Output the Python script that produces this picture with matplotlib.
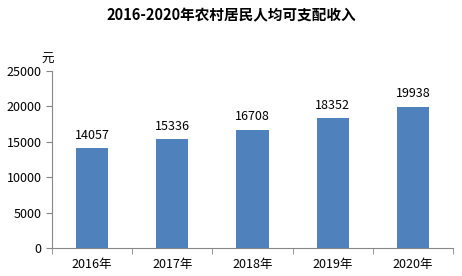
import matplotlib.pyplot as plt
import numpy as np

plt.rcParams['font.family'] = ['Noto Sans CJK SC', 'DejaVu Sans']

years = ['2016年', '2017年', '2018年', '2019年', '2020年']
income = [14057, 15336, 16708, 18352, 19938]

fig = plt.figure(figsize=(4.62, 2.76), dpi=100)
ax = fig.add_axes([52/462, 28/276, 401/462, 177/276])

x = np.arange(len(years))
bars = ax.bar(x, income, width=0.4, color='#4F81BD')
for xi, v in zip(x, income):
    ax.text(xi, v + 900, str(v), ha='center', va='bottom', fontsize=9)

ax.set_xlim(-0.5, len(years) - 0.5)
ax.set_ylim(0, 25000)
ax.set_yticks(np.arange(0, 25001, 5000))
ax.set_xticks(x)
ax.set_xticklabels(years, fontsize=9)
ax.set_xticks(np.arange(-0.5, len(years)), minor=True)
ax.tick_params(axis='x', which='major', length=0, pad=7)
ax.tick_params(axis='x', which='minor', length=4, color='#888888', direction='out')
ax.tick_params(axis='y', labelsize=9, length=4, color='#888888', direction='out')

for s in ['top', 'right']:
    ax.spines[s].set_visible(False)
for s in ['left', 'bottom']:
    ax.spines[s].set_color('#888888')

ax.text(-0.012, 1.03, '元', transform=ax.transAxes, fontsize=9, ha='center', va='bottom')
fig.text(0.5, 0.945, '2016-2020年农村居民人均可支配收入', ha='center', va='center',
         fontsize=10.5, fontweight='bold')

fig.savefig('out.png', dpi=100)
